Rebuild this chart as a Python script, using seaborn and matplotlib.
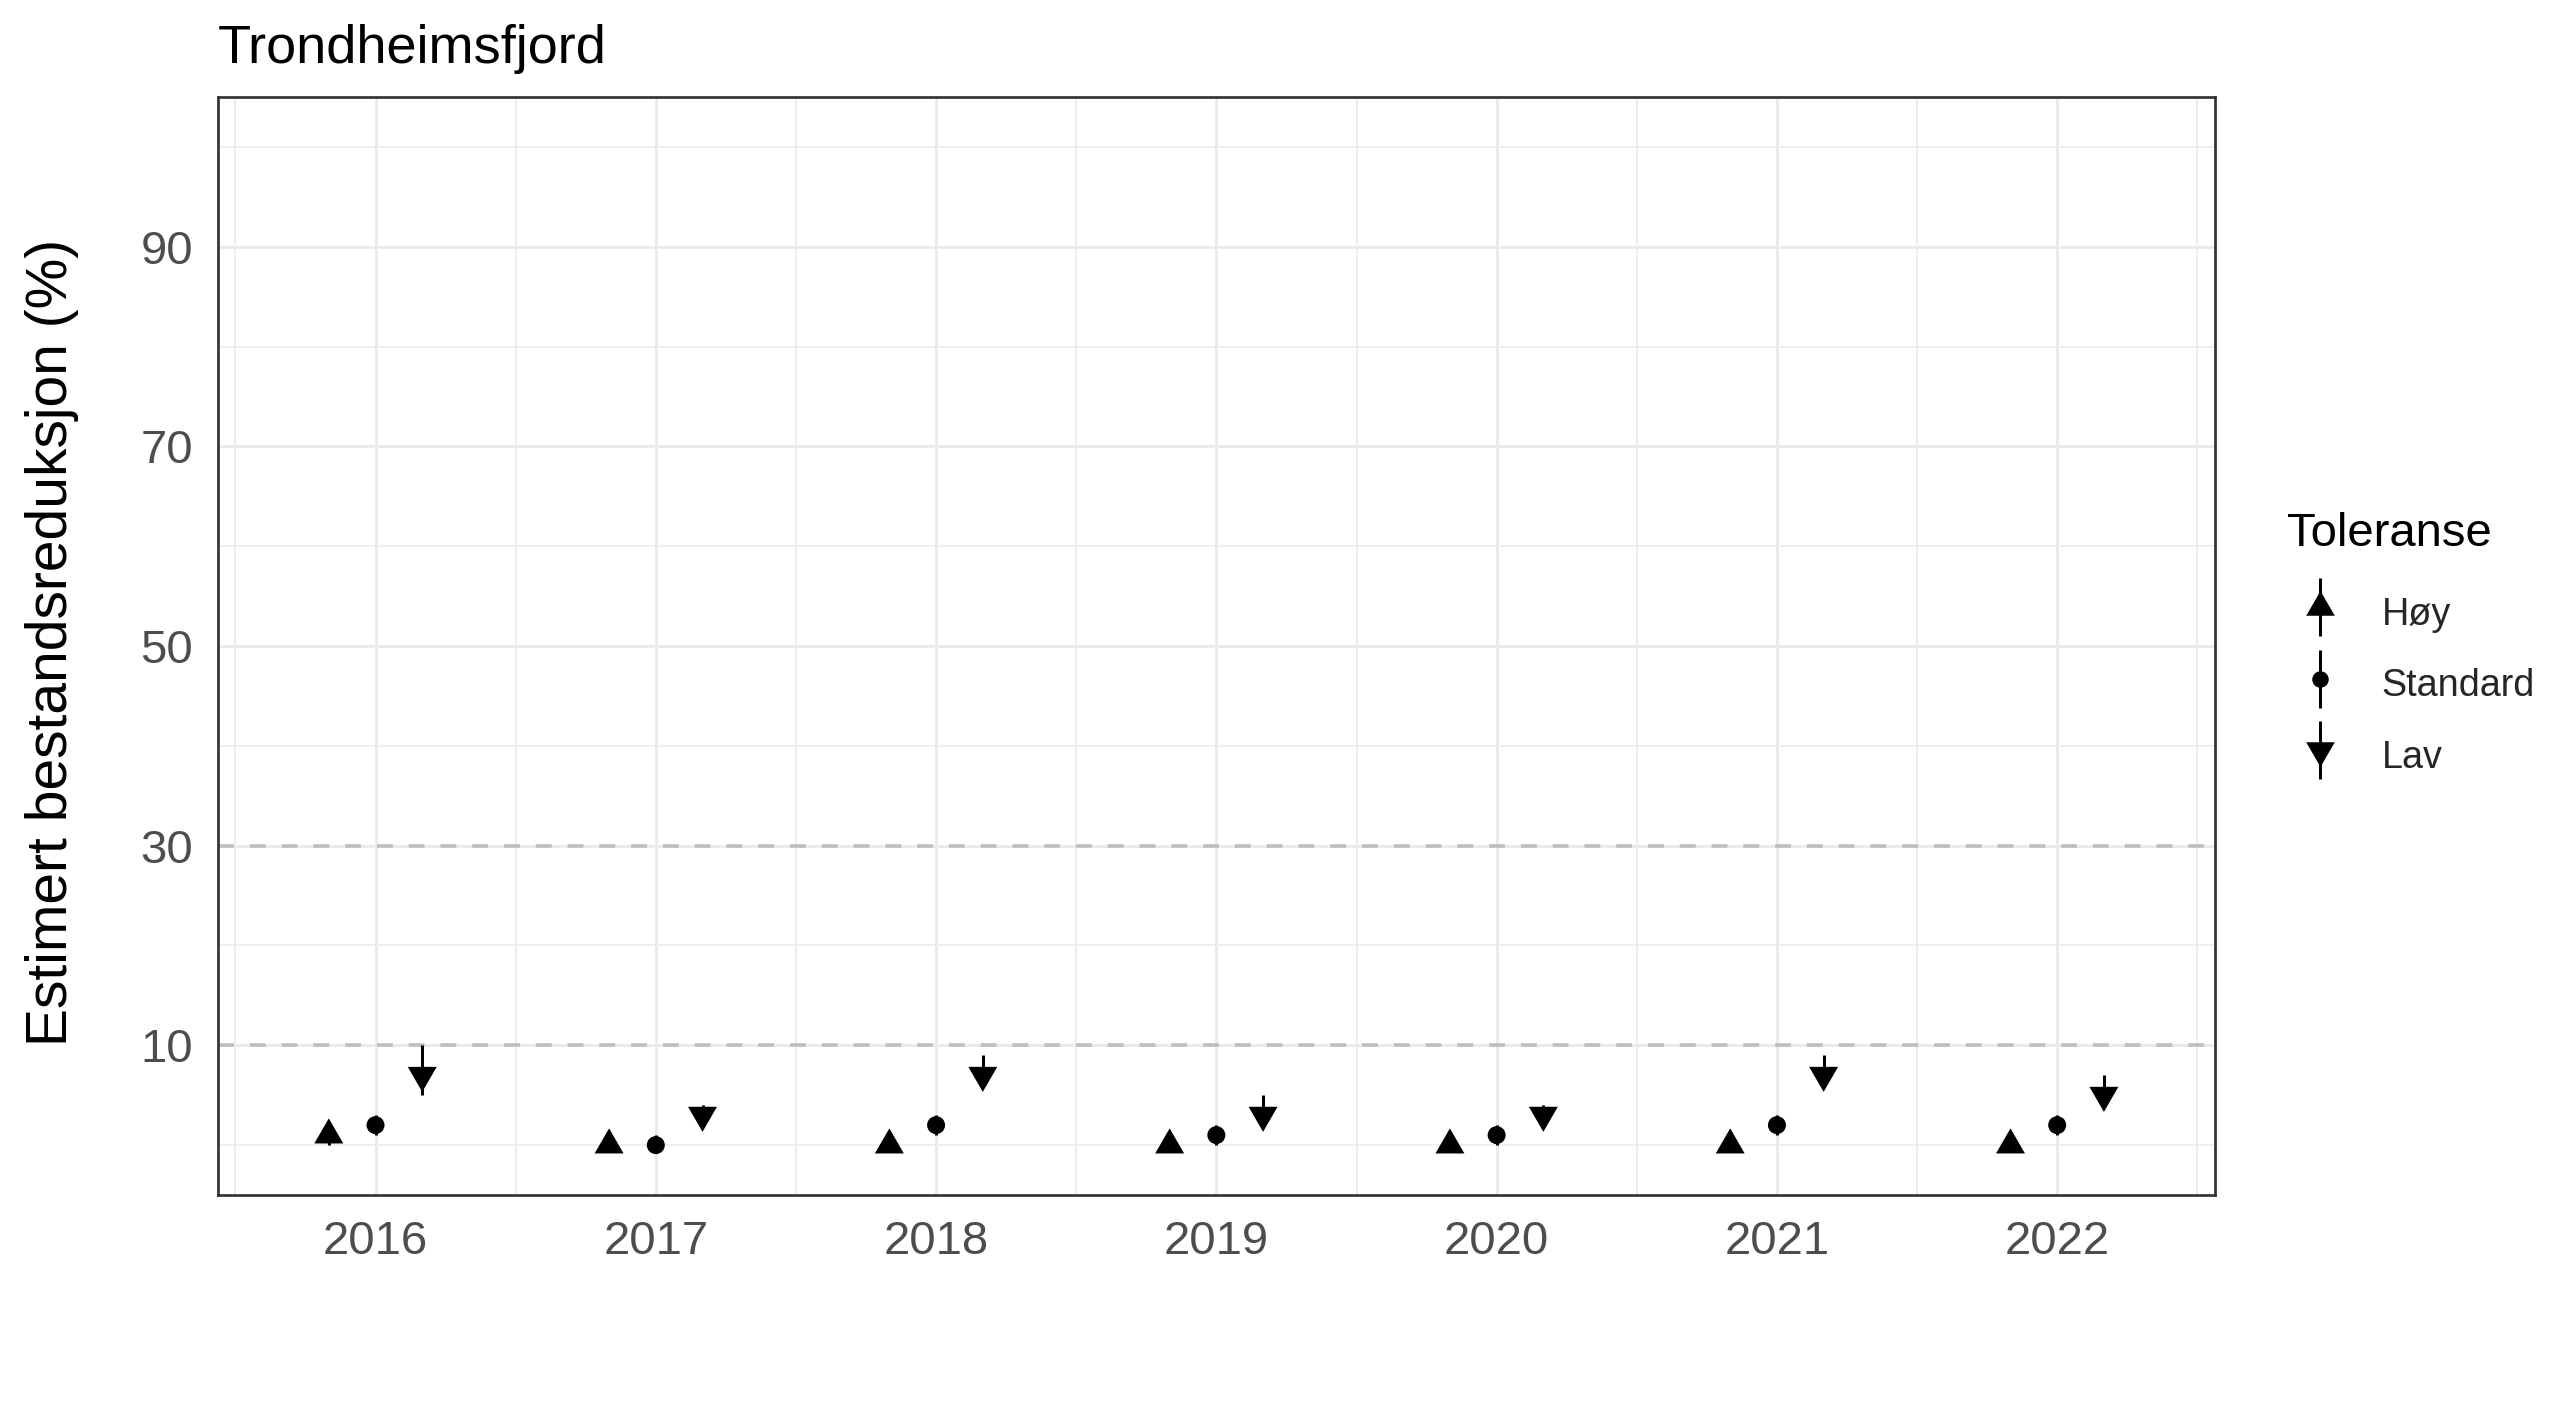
import numpy as np
import pandas as pd
import matplotlib
matplotlib.use("Agg")
import matplotlib.pyplot as plt
import seaborn as sns
from matplotlib.lines import Line2D
from matplotlib.markers import MarkerStyle
from matplotlib.legend_handler import HandlerTuple
from matplotlib.ticker import FixedLocator

# ---------------- data ----------------
years = [2016, 2017, 2018, 2019, 2020, 2021, 2022]
groups = ["Høy", "Standard", "Lav"]

hoy_est = [1, 0, 0, 0, 0, 0, 0]
hoy_lo = [0, 0, 0, 0, 0, 0, 0]
hoy_hi = [2, 1, 1, 1, 1, 1, 1]

std_est = [2, 0, 2, 1, 1, 2, 2]
std_lo = [1, 0, 1, 0, 0, 1, 1]
std_hi = [3, 1, 3, 2, 2, 3, 3]

lav_est = [7, 3, 7, 3, 3, 7, 5]
lav_lo = [5, 2, 6, 2, 2, 6, 4]
lav_hi = [10, 4, 9, 5, 4, 9, 7]

ref_lines = [10, 30]
y_ticks = [10, 30, 50, 70, 90]
y_minor = [0, 20, 40, 60, 80, 100]

title = "Trondheimsfjord"
ylabel = "Estimert bestandsreduksjon (%)"
legend_title = "Toleranse"

# ---------------- long table ----------------
dodge = {"Høy": -1 / 6, "Standard": 0.0, "Lav": 1 / 6}
rows = []
for g, est, lo, hi in [("Høy", hoy_est, hoy_lo, hoy_hi),
                       ("Standard", std_est, std_lo, std_hi),
                       ("Lav", lav_est, lav_lo, lav_hi)]:
    for y, e, l, h in zip(years, est, lo, hi):
        rows.append({"year": y, "Toleranse": g, "est": e, "lo": l, "hi": h})
df = pd.DataFrame(rows)
df["xpos"] = df["year"] + df["Toleranse"].map(dodge)

# ---------------- figure ----------------
sns.set_theme(style="white")
plt.rcParams["font.family"] = ["Liberation Sans", "DejaVu Sans"]

DPI = 200
W, H = 2575, 1405
PX = 72 / DPI  # points per pixel

fig = plt.figure(figsize=(W / DPI, H / DPI), dpi=DPI)
fig.patch.set_facecolor("white")
L, R, T, B = 218, 2215, 97, 1195
ax = fig.add_axes([L / W, 1 - B / H, (R - L) / W, (B - T) / H])
ax.set_facecolor("white")

tri_up = MarkerStyle([(0, 1.5551), (1.3468, -0.7776), (-1.3468, -0.7776)])
tri_dn = MarkerStyle([(0, -1.5551), (1.3468, 0.7776), (-1.3468, 0.7776)])
markers = {"Høy": tri_up, "Standard": MarkerStyle("o"), "Lav": tri_dn}
sizes = {"Høy": 145, "Standard": 42, "Lav": 145}

# reference lines
for r in ref_lines:
    ax.axhline(r, color="#BEBEBE", lw=1.3, ls=(0, (4.4, 4.4)), zorder=1.5)

# intervals
ax.vlines(df["xpos"], df["lo"], df["hi"], color="black", lw=3 * PX, zorder=2)

sns.scatterplot(data=df, x="xpos", y="est", style="Toleranse", size="Toleranse",
                markers=markers, sizes=sizes, style_order=groups, size_order=groups,
                color="black", edgecolor="none", linewidth=0, legend=False,
                ax=ax, zorder=3)

ax.set_xlim(2015.438, 2022.563)
ax.set_ylim(-5, 105)
ax.set_xticks(years)
ax.set_xticklabels([str(y) for y in years])
ax.set_yticks(y_ticks)
ax.set_yticklabels([str(v) for v in y_ticks])
ax.xaxis.set_minor_locator(FixedLocator([y + 0.5 for y in [2015] + years]))
ax.yaxis.set_minor_locator(FixedLocator(y_minor))
ax.set_axisbelow(True)
ax.grid(which="major", color="#EBEBEB", lw=3 * PX)
ax.grid(which="minor", color="#EBEBEB", lw=1.6 * PX)
ax.tick_params(which="minor", length=0)
ax.tick_params(which="major", length=13 * PX, width=3 * PX, color="#333333",
               labelsize=17, labelcolor="#4D4D4D", pad=4.2)
ax.set_xlabel("")
ax.set_ylabel("")
for s in ax.spines.values():
    s.set_color("#333333")
    s.set_linewidth(2.7 * PX)
    s.set_zorder(4)

fig.text(L / W, 1 - 63 / H, title, fontsize=19.5, ha="left", va="baseline", color="black")
fig.text(67 / W, 1 - 642 / H, ylabel, fontsize=20.5, rotation=90, rotation_mode="anchor",
         ha="center", va="baseline", color="black")
fig.text(2287 / W, 1 - 546 / H, legend_title, fontsize=17, ha="left", va="baseline",
         color="black")

# legend
handles = []
for g in groups:
    bar = Line2D([], [], ls="none", marker="|", markersize=58 * PX, mew=3 * PX, color="black")
    if g == "Standard":
        mk = Line2D([], [], ls="none", marker="o", markersize=16.5 * PX, color="black", mew=0)
    else:
        mk = Line2D([], [], ls="none", marker=markers[g], markersize=33 * PX, color="black", mew=0)
    handles.append((bar, mk))

leg = ax.legend(handles, groups, loc="center left",
                bbox_to_anchor=(2287 / W, 1 - 684 / H), bbox_transform=fig.transFigure,
                frameon=False, fontsize=13.6,
                handlelength=1.75, handletextpad=0.75, handleheight=1.5,
                labelspacing=0.68, borderpad=0, borderaxespad=0, numpoints=1,
                handler_map={tuple: HandlerTuple(ndivide=1)})

fig.savefig("out.png", dpi=DPI, facecolor="white")
